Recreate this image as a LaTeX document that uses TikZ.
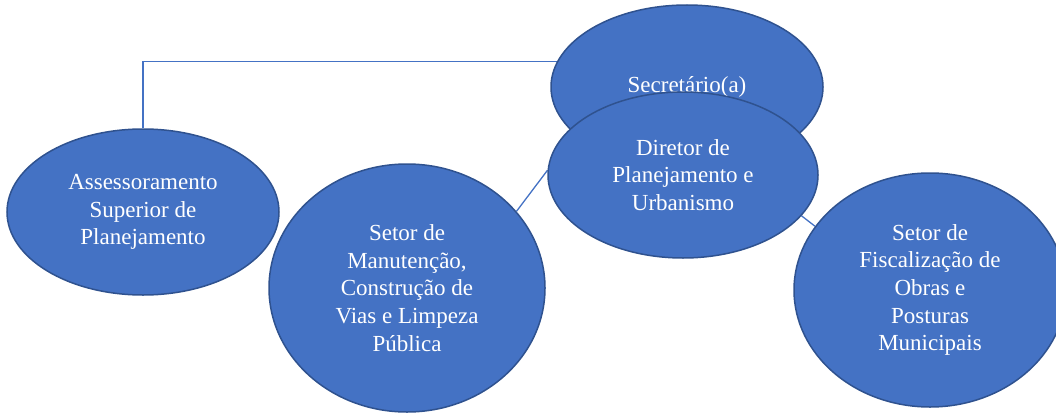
\documentclass[tikz,border=0pt]{standalone}
\usepackage{fontspec}
\setmainfont{Liberation Serif}
\usepackage{xcolor}
\usetikzlibrary{shapes.geometric}
\usetikzlibrary{backgrounds}
\definecolor{orgfill}{HTML}{4472C4}
\definecolor{orgline}{HTML}{2F528F}

\begin{document}
\begin{tikzpicture}[x=1pt,y=-1pt,
		unit/.style={ellipse, fill=orgfill, draw=orgline, line width=1.5pt, text=white, align=center, inner sep=0pt, font=\fontsize{23}{27.7}\selectfont},
		link/.style={orgfill, line width=1.3pt}]
	\useasboundingbox (0,0) rectangle (1056,412);
	%units
	\node[unit, minimum width=272, minimum height=166] (asr) at (143,212) {Assessoramento\\Superior de\\Planejamento};
	\node[unit, minimum width=276, minimum height=248] (man) at (407,288) {Setor de\\Manutenção,\\Construção de\\Vias e Limpeza\\Pública};
	\node[unit, minimum width=272, minimum height=164] (sec) at (687,87) {Secretário(a)};
	\node[unit, minimum width=270, minimum height=166] (dir) at (683,175) {Diretor de\\Planejamento e\\Urbanismo};
	\node[unit, minimum width=272, minimum height=234] (fis) at (930,290) {Setor de\\Fiscalização de\\Obras e\\Posturas\\Municipais};
	
	% links
	\begin{scope}[on background layer]
		\draw[link] (asr.north) |- (sec.169);
		\draw[link] (man.35) -- (dir.178);
		\draw[link] (dir.341) -- (fis.151);
	\end{scope}
\end{tikzpicture}
\end{document}
